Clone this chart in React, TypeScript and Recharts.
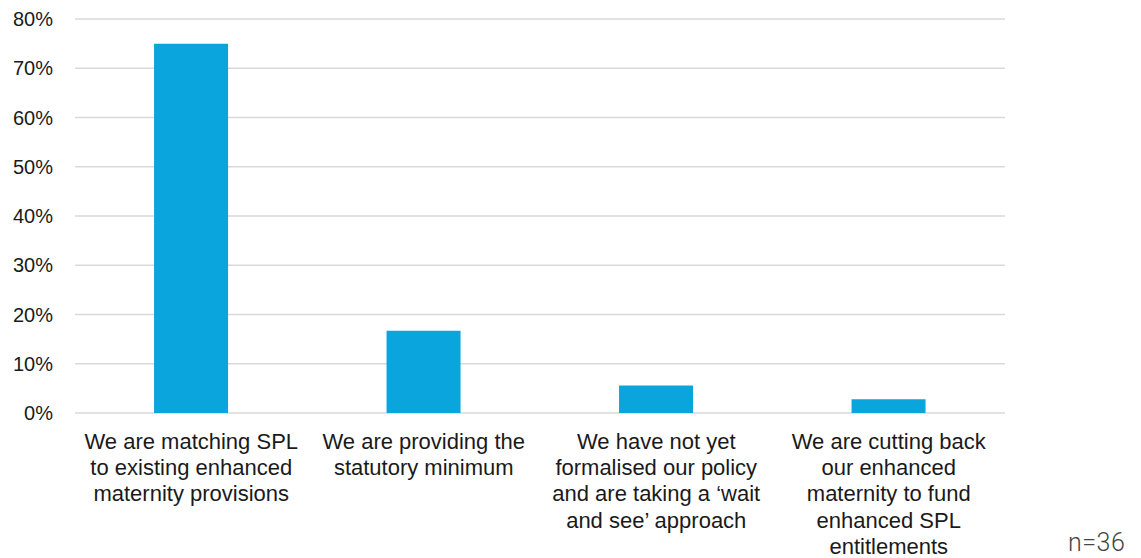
import { BarChart, Bar, XAxis, YAxis, CartesianGrid } from 'recharts';

const categories = [
  'We are matching SPL\nto existing enhanced\nmaternity provisions',
  'We are providing the\nstatutory minimum',
  'We have not yet\nformalised our policy\nand are taking a \u2018wait\nand see\u2019 approach',
  'We are cutting back\nour enhanced\nmaternity to fund\nenhanced SPL\nentitlements',
];
const shares = [0.75, 0.167, 0.056, 0.028];
const yTicks = [0, 0.1, 0.2, 0.3, 0.4, 0.5, 0.6, 0.7, 0.8];
const sampleNote = 'n=36';

const data = categories.map((label, i) => ({ label, value: shares[i] }));

const FONT = '"Liberation Sans", Arial, Helvetica, sans-serif';

function CategoryTick({ x, y, payload }: any) {
  const lines = String(payload.value).split('\n');
  return (
    <text x={x} y={y} textAnchor='middle' fill='#1a1a1a' fontSize={22} fontFamily={FONT}>
      {lines.map((line, i) => (
        <tspan key={i} x={x} dy={i === 0 ? 28 : 26.2}>
          {line}
        </tspan>
      ))}
    </text>
  );
}

export default function App() {
  return (
    <div style={{ position: 'relative', width: 1141, height: 558, background: '#fff' }}>
      <style>{'body{margin:0}'}</style>
      <BarChart
        width={1141}
        height={558}
        data={data}
        margin={{ top: 19, right: 136, left: 0, bottom: 0 }}
        barCategoryGap='34%'
      >
        <CartesianGrid vertical={false} stroke='#d9d9d9' strokeWidth={1.6} />
        <XAxis
          dataKey='label'
          height={145}
          axisLine={false}
          tickLine={false}
          interval={0}
          tick={<CategoryTick />}
        />
        <YAxis
          width={75}
          domain={[0, 0.8]}
          ticks={yTicks}
          axisLine={false}
          tickLine={false}
          tickMargin={16}
          tickFormatter={(v: number) => `${Math.round(v * 100)}%`}
          tick={{ fontSize: 20, fill: '#1a1a1a', fontFamily: FONT }}
        />
        <Bar dataKey='value' fill='#0aa5dc' isAnimationActive={false} />
      </BarChart>
      <div
        style={{
          position: 'absolute',
          left: 1068,
          top: 530,
          lineHeight: 1,
          fontFamily: 'Roboto, sans-serif',
          fontWeight: 300,
          fontSize: 25,
          letterSpacing: 0.5,
          color: '#444',
        }}
      >
        {sampleNote}
      </div>
    </div>
  );
}
